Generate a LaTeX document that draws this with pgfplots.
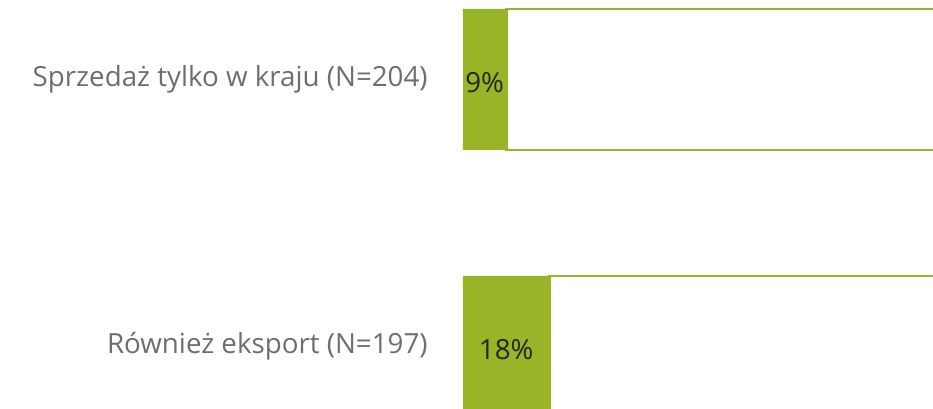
\documentclass[border=0pt]{standalone}
\usepackage{pgfplots}
\pgfplotsset{compat=1.18}
\usepackage{fontspec}
\setmainfont{Open Sans}
\definecolor{barg}{HTML}{97B526}
\definecolor{lblgray}{HTML}{6E6E6E}
\begin{document}
\begin{tikzpicture}
\begin{axis}[
  at={(347.25pt,347.25pt)}, anchor=north west,
  scale only axis, width=360pt, height=400.5pt,
  xmin=0, xmax=100, ymin=-0.5, ymax=1.5, y dir=reverse,
  xbar stacked, bar width=105.75pt,
  axis line style={draw=none},
  xtick=\empty, ytick={0,1}, major tick length=0pt,
  /pgf/number format/assume math mode=true,
  yticklabels={Sprzedaż tylko w kraju (N=204), Również eksport (N=197)},
  yticklabel style={font=\fontsize{20.8}{24}\selectfont, text=lblgray, xshift=-23pt},
  clip=false,
]
\addplot[fill=barg, draw=none,
  nodes near coords={\pgfmathprintnumber{\pgfplotspointmeta}\%},
  point meta=x,
  every node near coord/.append style={anchor=center, yshift=-2pt, font=\fontsize{20.8}{24}\selectfont, text=black!85}]
  coordinates {(9,0) (18,1)};
\addplot[fill=white, draw=barg, line width=2.2pt]
  coordinates {(91,0) (82,1)};
\end{axis}
\pgfresetboundingbox
\useasboundingbox (0,0) rectangle (699.75pt,306.75pt);
\end{tikzpicture}
\end{document}
